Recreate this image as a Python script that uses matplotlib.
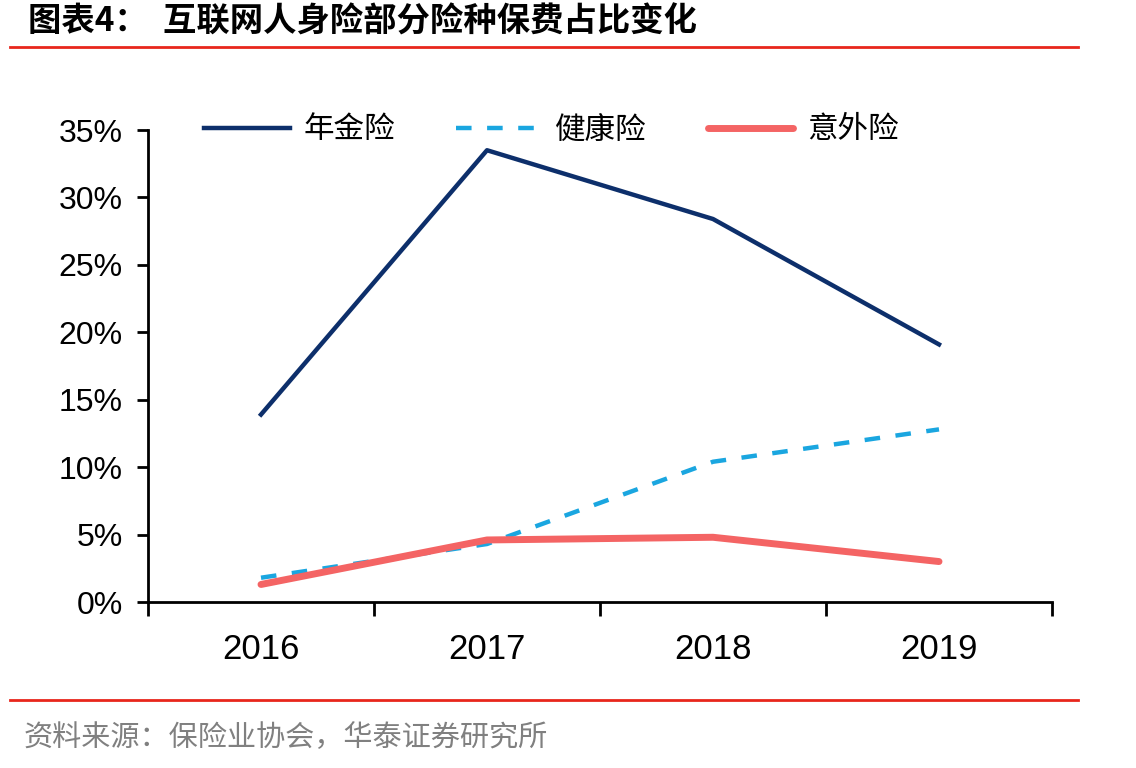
import matplotlib.pyplot as plt
from matplotlib.lines import Line2D

plt.rcParams['font.family'] = ['Noto Sans CJK SC', 'DejaVu Sans']

years = ["2016", "2017", "2018", "2019"]
annuity = [13.9, 33.5, 28.4, 19.1]
health = [1.8, 4.3, 10.4, 12.8]
accident = [1.3, 4.6, 4.8, 3.0]
y_ticks = [0, 5, 10, 15, 20, 25, 30, 35]

fig = plt.figure(figsize=(11.36, 7.68), dpi=100)
ax = fig.add_axes([148 / 1136, 1 - 602 / 768, (1052 - 148) / 1136, (602 - 130) / 768])

x = range(len(years))
ax.plot(x, annuity, color="#0d2f6b", lw=3.2, label="年金险")
ax.plot(x, health, color="#1aa6e0", lw=3.2, dashes=(3.5, 3.5), label="健康险")
ax.plot(x, accident, color="#f46464", lw=5, solid_capstyle="round", label="意外险")

ax.set_xlim(-0.5, 3.5)
ax.set_ylim(0, 35)
ax.set_yticks(y_ticks)
ax.set_yticklabels([f"{v}%" for v in y_ticks], fontfamily="Liberation Sans", fontsize=23)
ax.set_xticks([-0.5, 0.5, 1.5, 2.5, 3.5])
ax.set_xticklabels([])
ax.set_xticks(list(x), minor=True)
ax.set_xticklabels(years, minor=True, fontfamily="Liberation Sans", fontsize=25)
ax.tick_params(axis="x", which="minor", length=0, pad=22)
ax.tick_params(axis="x", which="major", length=10, width=2, direction="out")
ax.tick_params(axis="y", length=8, width=2, direction="out", pad=10)

for s in ["top", "right"]:
    ax.spines[s].set_visible(False)
ax.spines["left"].set_linewidth(2)
ax.spines["bottom"].set_linewidth(2)

handles = [
    Line2D([], [], color="#0d2f6b", lw=3.2),
    Line2D([], [], color="#1aa6e0", lw=3.2, dashes=(3.5, 3.5)),
    Line2D([], [], color="#f46464", lw=5, solid_capstyle="round"),
]
leg = ax.legend(handles, ["年金险", "健康险", "意外险"], loc="center left",
                bbox_to_anchor=((204 - 148) / 904, 1.0), ncol=3, frameon=False, fontsize=22,
                handlelength=2.8, columnspacing=2.0, handletextpad=0.45,
                borderpad=0, borderaxespad=0)

fig.text(28 / 1136, 1 - 22 / 768, "图表4：  互联网人身险部分险种保费占比变化",
         fontsize=24, fontweight="bold", va="center", ha="left")
fig.add_artist(Line2D([10 / 1136, 1078 / 1136], [1 - 47 / 768] * 2, color="#e8261c", lw=2))
fig.add_artist(Line2D([10 / 1136, 1078 / 1136], [1 - 700 / 768] * 2, color="#e8261c", lw=2))
fig.text(24 / 1136, 1 - 738 / 768, "资料来源：保险业协会，华泰证券研究所",
         fontsize=21, color="#808080", va="center", ha="left")

fig.savefig("out.png", dpi=100)
